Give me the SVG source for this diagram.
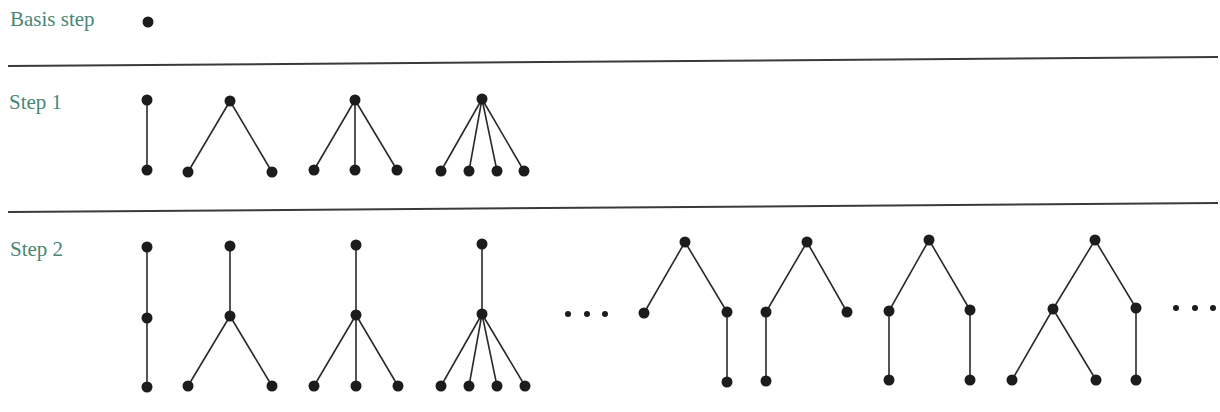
<svg xmlns="http://www.w3.org/2000/svg" width="1220" height="412" viewBox="0 0 1220 412">
<style>
.lbl{font-family:"Liberation Serif","Times New Roman",serif;font-size:21px;fill:#4a8677}
.n{fill:#1c1c1c}
.d{fill:#1c1c1c}
.e{stroke:#2a2a2a;stroke-width:1.6;fill:none}
.rule{stroke:#3a3a3a;stroke-width:2;fill:none}
</style>
<rect width="1220" height="412" fill="#ffffff"/>
<g id="rules">
<line class="rule" x1="8" y1="66" x2="1218" y2="57"/>
<line class="rule" x1="8" y1="212" x2="1218" y2="203"/>
</g>
<g id="labels">
<text class="lbl" x="10" y="26">Basis step</text>
<text class="lbl" x="9" y="109">Step 1</text>
<text class="lbl" x="10" y="256">Step 2</text>
</g>
<g id="connectors">
<line class="e" x1="147" y1="100" x2="147" y2="170"/>
<line class="e" x1="230" y1="101" x2="188" y2="172"/>
<line class="e" x1="230" y1="101" x2="272" y2="172"/>
<line class="e" x1="355" y1="100" x2="314" y2="170"/>
<line class="e" x1="355" y1="100" x2="355" y2="170"/>
<line class="e" x1="355" y1="100" x2="397" y2="170"/>
<line class="e" x1="482" y1="99" x2="441" y2="171"/>
<line class="e" x1="482" y1="99" x2="469" y2="171"/>
<line class="e" x1="482" y1="99" x2="497" y2="171"/>
<line class="e" x1="482" y1="99" x2="524" y2="171"/>
<line class="e" x1="147" y1="247" x2="147" y2="318"/>
<line class="e" x1="147" y1="318" x2="147" y2="387"/>
<line class="e" x1="230" y1="246" x2="230" y2="316"/>
<line class="e" x1="230" y1="316" x2="188" y2="386"/>
<line class="e" x1="230" y1="316" x2="272" y2="386"/>
<line class="e" x1="356" y1="245" x2="356" y2="315"/>
<line class="e" x1="356" y1="315" x2="314" y2="386"/>
<line class="e" x1="356" y1="315" x2="356" y2="386"/>
<line class="e" x1="356" y1="315" x2="398" y2="386"/>
<line class="e" x1="482" y1="244" x2="482" y2="314"/>
<line class="e" x1="482" y1="314" x2="441" y2="386"/>
<line class="e" x1="482" y1="314" x2="469" y2="386"/>
<line class="e" x1="482" y1="314" x2="497" y2="386"/>
<line class="e" x1="482" y1="314" x2="525" y2="386"/>
<line class="e" x1="685" y1="242" x2="644" y2="313"/>
<line class="e" x1="685" y1="242" x2="727" y2="312"/>
<line class="e" x1="727" y1="312" x2="727" y2="382"/>
<line class="e" x1="807" y1="242" x2="766" y2="312"/>
<line class="e" x1="807" y1="242" x2="847" y2="312"/>
<line class="e" x1="766" y1="312" x2="766" y2="381"/>
<line class="e" x1="929" y1="240" x2="889" y2="311"/>
<line class="e" x1="929" y1="240" x2="970" y2="310"/>
<line class="e" x1="889" y1="311" x2="889" y2="380"/>
<line class="e" x1="970" y1="310" x2="970" y2="380"/>
<line class="e" x1="1095" y1="240" x2="1053" y2="309"/>
<line class="e" x1="1095" y1="240" x2="1136" y2="308"/>
<line class="e" x1="1053" y1="309" x2="1012" y2="380"/>
<line class="e" x1="1053" y1="309" x2="1096" y2="380"/>
<line class="e" x1="1136" y1="308" x2="1136" y2="380"/>
</g>
<g id="basis"><g id="b0"><circle class="n" cx="148" cy="22" r="5.5"/></g></g>
<g id="step1">
<g id="s1a1"><circle class="n" cx="147" cy="100" r="5.5"/></g>
<g id="s1a2"><circle class="n" cx="147" cy="170" r="5.5"/></g>
<g id="s1b1"><circle class="n" cx="230" cy="101" r="5.5"/></g>
<g id="s1b2"><circle class="n" cx="188" cy="172" r="5.5"/></g>
<g id="s1b3"><circle class="n" cx="272" cy="172" r="5.5"/></g>
<g id="s1c1"><circle class="n" cx="355" cy="100" r="5.5"/></g>
<g id="s1c2"><circle class="n" cx="314" cy="170" r="5.5"/></g>
<g id="s1c3"><circle class="n" cx="355" cy="170" r="5.5"/></g>
<g id="s1c4"><circle class="n" cx="397" cy="170" r="5.5"/></g>
<g id="s1d1"><circle class="n" cx="482" cy="99" r="5.5"/></g>
<g id="s1d2"><circle class="n" cx="441" cy="171" r="5.5"/></g>
<g id="s1d3"><circle class="n" cx="469" cy="171" r="5.5"/></g>
<g id="s1d4"><circle class="n" cx="497" cy="171" r="5.5"/></g>
<g id="s1d5"><circle class="n" cx="524" cy="171" r="5.5"/></g>
</g>
<g id="step2">
<g id="s2a1"><circle class="n" cx="147" cy="247" r="5.5"/></g>
<g id="s2a2"><circle class="n" cx="147" cy="318" r="5.5"/></g>
<g id="s2a3"><circle class="n" cx="147" cy="387" r="5.5"/></g>
<g id="s2b1"><circle class="n" cx="230" cy="246" r="5.5"/></g>
<g id="s2b2"><circle class="n" cx="230" cy="316" r="5.5"/></g>
<g id="s2b3"><circle class="n" cx="188" cy="386" r="5.5"/></g>
<g id="s2b4"><circle class="n" cx="272" cy="386" r="5.5"/></g>
<g id="s2c1"><circle class="n" cx="356" cy="245" r="5.5"/></g>
<g id="s2c2"><circle class="n" cx="356" cy="315" r="5.5"/></g>
<g id="s2c3"><circle class="n" cx="314" cy="386" r="5.5"/></g>
<g id="s2c4"><circle class="n" cx="356" cy="386" r="5.5"/></g>
<g id="s2c5"><circle class="n" cx="398" cy="386" r="5.5"/></g>
<g id="s2d1"><circle class="n" cx="482" cy="244" r="5.5"/></g>
<g id="s2d2"><circle class="n" cx="482" cy="314" r="5.5"/></g>
<g id="s2d3"><circle class="n" cx="441" cy="386" r="5.5"/></g>
<g id="s2d4"><circle class="n" cx="469" cy="386" r="5.5"/></g>
<g id="s2d5"><circle class="n" cx="497" cy="386" r="5.5"/></g>
<g id="s2d6"><circle class="n" cx="525" cy="386" r="5.5"/></g>
<g id="ellipsis1"><circle class="d" cx="568" cy="314" r="3"/><circle class="d" cx="587" cy="314" r="3"/><circle class="d" cx="605" cy="314" r="3"/></g>
<g id="s2e1"><circle class="n" cx="685" cy="242" r="5.5"/></g>
<g id="s2e2"><circle class="n" cx="644" cy="313" r="5.5"/></g>
<g id="s2e3"><circle class="n" cx="727" cy="312" r="5.5"/></g>
<g id="s2e4"><circle class="n" cx="727" cy="382" r="5.5"/></g>
<g id="s2f1"><circle class="n" cx="807" cy="242" r="5.5"/></g>
<g id="s2f2"><circle class="n" cx="766" cy="312" r="5.5"/></g>
<g id="s2f3"><circle class="n" cx="847" cy="312" r="5.5"/></g>
<g id="s2f4"><circle class="n" cx="766" cy="381" r="5.5"/></g>
<g id="s2g1"><circle class="n" cx="929" cy="240" r="5.5"/></g>
<g id="s2g2"><circle class="n" cx="889" cy="311" r="5.5"/></g>
<g id="s2g3"><circle class="n" cx="970" cy="310" r="5.5"/></g>
<g id="s2g4"><circle class="n" cx="889" cy="380" r="5.5"/></g>
<g id="s2g5"><circle class="n" cx="970" cy="380" r="5.5"/></g>
<g id="s2h1"><circle class="n" cx="1095" cy="240" r="5.5"/></g>
<g id="s2h2"><circle class="n" cx="1053" cy="309" r="5.5"/></g>
<g id="s2h3"><circle class="n" cx="1136" cy="308" r="5.5"/></g>
<g id="s2h4"><circle class="n" cx="1012" cy="380" r="5.5"/></g>
<g id="s2h5"><circle class="n" cx="1096" cy="380" r="5.5"/></g>
<g id="s2h6"><circle class="n" cx="1136" cy="380" r="5.5"/></g>
<g id="ellipsis2"><circle class="d" cx="1176" cy="308" r="3"/><circle class="d" cx="1195" cy="308" r="3"/><circle class="d" cx="1213" cy="308" r="3"/></g>
</g>
</svg>
